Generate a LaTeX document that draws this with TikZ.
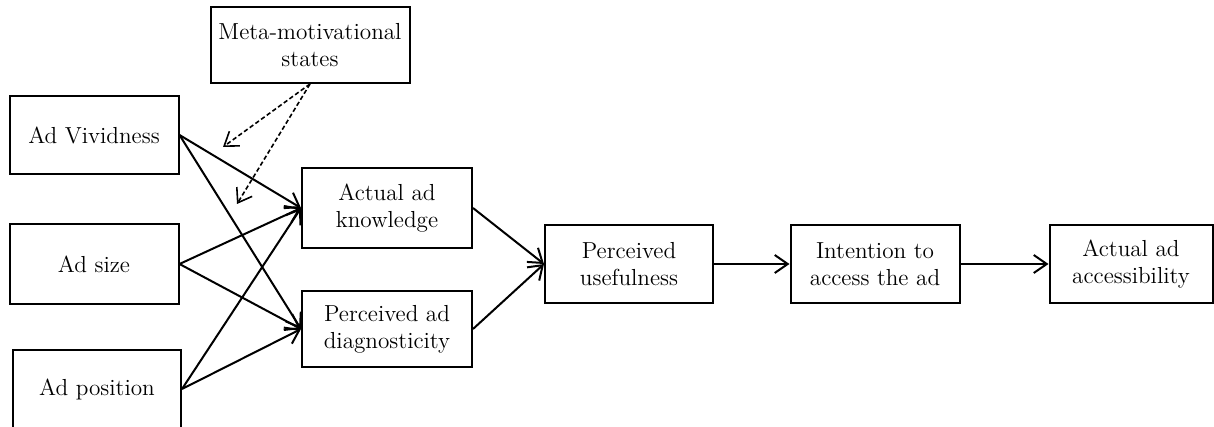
\documentclass[tikz,border=0pt]{standalone}
\usetikzlibrary{arrows.meta}
\begin{document}
\begin{tikzpicture}[x=0.5pt,y=-0.5pt,
    box/.style={draw, line width=1pt, align=center, inner sep=0pt,
      font=\fontsize{11.6}{13.5}\selectfont},
    link/.style={line width=1pt, -{Straight Barb[length=6.5pt,width=9pt]}},
    moder/.style={link, dash pattern=on 2.2pt off 1.3pt, line width=0.8pt}]
    \useasboundingbox (0,0) rectangle (1214,427);

    % Draw moderator
    \node[box, minimum width=99.5pt, minimum height=38pt] (meta) at (310,45) {Meta-motivational\\states};

    % Draw ad features
    \node[box, minimum width=84.5pt, minimum height=39pt] (viv) at (94,135) {Ad Vividness};
    \node[box, minimum width=84.5pt, minimum height=39.5pt] (size) at (94,264) {Ad size};
    \node[box, minimum width=84pt, minimum height=39pt] (pos) at (97,389) {Ad position};

    % Draw mediators
    \node[box, minimum width=85pt, minimum height=39.5pt] (know) at (387,208) {Actual ad\\knowledge};
    \node[box, minimum width=85pt, minimum height=38pt] (diag) at (387,329) {Perceived ad\\diagnosticity};

    % Draw outcome chain
    \node[box, minimum width=84pt, minimum height=39pt] (use) at (629,264) {Perceived\\usefulness};
    \node[box, minimum width=84.5pt, minimum height=39pt] (intent) at (875,264) {Intention to\\access the ad};
    \node[box, minimum width=81.5pt, minimum height=38.5pt] (access) at (1131,264) {Actual ad\\accessibility};

    % Draw paths
    \foreach \src in {viv,size,pos} {
        \draw[link] (\src.east) -- (know.west);
        \draw[link] (\src.east) -- (diag.west);
    }
    \draw[link] (know.east) -- (use.west);
    \draw[link] (diag.east) -- (use.west);
    \draw[link] (use.east) -- (intent.west);
    \draw[link] (intent.east) -- (access.west);

    % Draw moderation
    \coordinate (modA) at (223,147);
    \coordinate (modB) at (237,204);
    \draw[moder] (meta.south) -- (modA);
    \draw[moder] (meta.south) -- (modB);
\end{tikzpicture}
\end{document}
